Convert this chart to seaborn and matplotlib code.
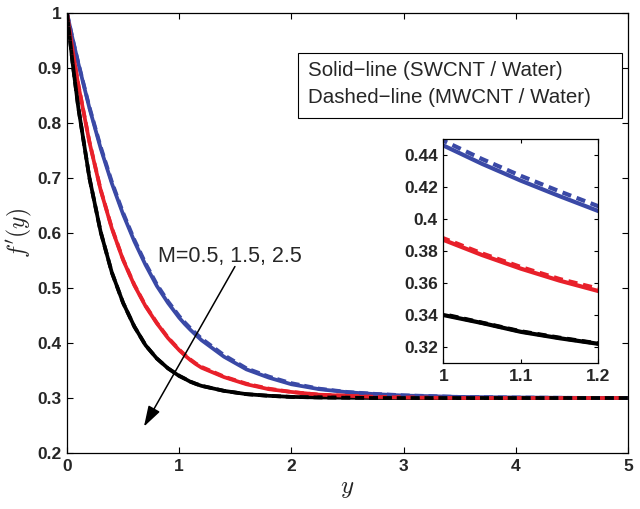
import numpy as np
import pandas as pd
import seaborn as sns
import matplotlib.pyplot as plt
from matplotlib.patches import Rectangle

# valori
y_vals = [0, 0.05, 0.1, 0.2, 0.3, 0.4, 0.5, 0.6, 0.7, 0.8, 0.9, 1.0, 1.05, 1.1, 1.15, 1.2,
          1.4, 1.6, 1.8, 2.0, 2.25, 2.5, 2.75, 3.0, 3.5, 4.0, 4.5, 5.0]

# M = 0.5
blue_swcnt = [1.000, 0.953, 0.909, 0.827, 0.754, 0.690, 0.634, 0.585, 0.542, 0.504, 0.473, 0.446, 0.4345, 0.424,
              0.4143, 0.405, 0.375, 0.352, 0.337, 0.325, 0.316, 0.3105, 0.307, 0.3045, 0.302, 0.301, 0.3003, 0.300]
blue_mwcnt = [1.000, 0.953, 0.910, 0.829, 0.757, 0.693, 0.637, 0.588, 0.545, 0.507, 0.476, 0.449, 0.4375, 0.427,
              0.4173, 0.408, 0.378, 0.354, 0.339, 0.327, 0.317, 0.311, 0.3075, 0.305, 0.302, 0.301, 0.3003, 0.300]
# M = 1.5
red_swcnt = [1.000, 0.932, 0.870, 0.765, 0.678, 0.608, 0.551, 0.505, 0.467, 0.436, 0.409, 0.387, 0.3775, 0.369,
             0.3615, 0.355, 0.338, 0.325, 0.316, 0.311, 0.306, 0.304, 0.302, 0.301, 0.300, 0.300, 0.300, 0.300]
red_mwcnt = [1.000, 0.932, 0.871, 0.766, 0.679, 0.609, 0.552, 0.506, 0.468, 0.437, 0.410, 0.388, 0.3785, 0.370,
             0.3625, 0.3565, 0.339, 0.326, 0.317, 0.311, 0.306, 0.304, 0.302, 0.301, 0.300, 0.300, 0.300, 0.300]
# M = 2.5
black_swcnt = [1.000, 0.909, 0.829, 0.700, 0.602, 0.528, 0.473, 0.430, 0.396, 0.372, 0.354, 0.340, 0.335, 0.3295,
               0.3255, 0.322, 0.313, 0.307, 0.304, 0.302, 0.301, 0.3005, 0.300, 0.300, 0.300, 0.300, 0.300, 0.300]
black_mwcnt = [1.000, 0.909, 0.829, 0.700, 0.602, 0.528, 0.473, 0.430, 0.396, 0.372, 0.354, 0.3405, 0.3352, 0.3298,
               0.3258, 0.3222, 0.313, 0.307, 0.304, 0.302, 0.301, 0.3005, 0.300, 0.300, 0.300, 0.300, 0.300, 0.300]

main_xticks = [0, 1, 2, 3, 4, 5]
main_yticks = [0.2, 0.3, 0.4, 0.5, 0.6, 0.7, 0.8, 0.9, 1.0]
inset_xticks = [1, 1.1, 1.2]
inset_yticks = [0.32, 0.34, 0.36, 0.38, 0.4, 0.42, 0.44]

BLUE = '#3a49a6'
RED = '#e8202a'
BLACK = '#000000'

solid = [(blue_swcnt, BLUE), (red_swcnt, RED), (black_swcnt, BLACK)]
dashed = [(blue_mwcnt, BLUE), (red_mwcnt, RED), (black_mwcnt, BLACK)]

sns.set_style('ticks')
plt.rcParams['font.family'] = ['Liberation Sans', 'DejaVu Sans']
plt.rcParams['mathtext.fontset'] = 'cm'
plt.rcParams['xtick.direction'] = 'in'
plt.rcParams['ytick.direction'] = 'in'
plt.rcParams['xtick.top'] = True
plt.rcParams['ytick.right'] = True
plt.rcParams['axes.edgecolor'] = 'black'
plt.rcParams['axes.linewidth'] = 0.9


def draw_curves(ax, lw, dash):
    for vals, c in solid:
        sns.lineplot(x=y_vals, y=vals, ax=ax, color=c, lw=lw, estimator=None)
    for vals, c in dashed:
        sns.lineplot(x=y_vals, y=vals, ax=ax, color=c, lw=lw, estimator=None,
                     linestyle=(0, dash))


def fmt(v):
    return '%g' % v


fig = plt.figure(figsize=(6.4, 5.09), dpi=100)
ax = fig.add_axes([0.1047, 0.110, 0.8763, 0.8645])
draw_curves(ax, 2.7, (2.4, 1.3))
ax.set_xlim(0, 5)
ax.set_ylim(0.2, 1.0)
ax.set_xticks(main_xticks, labels=[fmt(v) for v in main_xticks], fontsize=12.5, fontweight='bold')
ax.set_yticks(main_yticks, labels=[fmt(v) for v in main_yticks], fontsize=12.5, fontweight='bold')
ax.tick_params(length=4, width=0.8, color='black', pad=4)
ax.set_xlabel(r'$y$', fontsize=18, labelpad=2)
ax.set_ylabel(r"$f'(y)$", fontsize=17, labelpad=2)

# box con la descrizione delle linee
ax.add_patch(Rectangle((0.4118, 0.761), 0.5772, 0.148, transform=ax.transAxes,
                       facecolor='white', edgecolor='black', lw=0.8, zorder=5))
ax.text(0.4296, 0.856, 'Solid\u2212line (SWCNT / Water)', transform=ax.transAxes,
        fontsize=14.8, va='baseline', zorder=6)
ax.text(0.4296, 0.795, 'Dashed\u2212line (MWCNT / Water)', transform=ax.transAxes,
        fontsize=14.8, va='baseline', zorder=6)

# freccia per M
ax.annotate('', xy=(0.686, 0.248), xytext=(1.497, 0.539),
            arrowprops=dict(arrowstyle='-|>,head_length=0.7,head_width=0.22', color='black',
                            lw=1.1, mutation_scale=18, shrinkA=0, shrinkB=0))
ax.text(0.81, 0.547, 'M=0.5, 1.5, 2.5', fontsize=15.5, va='baseline')

# inset zoom
axin = fig.add_axes([0.6927, 0.2868, 0.2422, 0.4400])
draw_curves(axin, 3.0, (2.2, 1.4))
axin.set_xlim(1, 1.2)
axin.set_ylim(0.31, 0.45)
axin.set_xticks(inset_xticks, labels=[fmt(v) for v in inset_xticks], fontsize=12.5, fontweight='bold')
axin.set_yticks(inset_yticks, labels=[fmt(v) for v in inset_yticks], fontsize=12.5, fontweight='bold')
axin.tick_params(length=3, width=0.8, color='black', pad=4)
axin.set_xlabel('')
axin.set_ylabel('')

fig.savefig('out.png', dpi=100)
